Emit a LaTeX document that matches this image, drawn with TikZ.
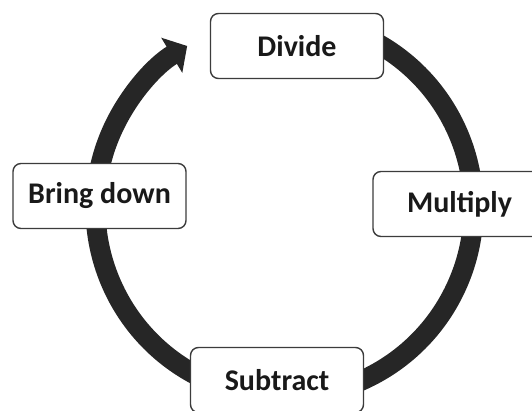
\documentclass[tikz,border=0pt]{standalone}
\usepackage{fontspec}
\setmainfont{Carlito}
\usetikzlibrary{arrows.meta}
\definecolor{ringc}{HTML}{262626}
\definecolor{boxc}{HTML}{3C3C3C}
\tikzset{
  stepnode/.style={draw=boxc, line width=1.4pt, fill=white, rounded corners=8pt,
    minimum width=173pt, minimum height=65pt, inner sep=0pt,
    font=\fontsize{30}{36}\selectfont\bfseries, text=black!90},
  ring/.style={draw=ringc, line width=20pt,
    -{Triangle[width=40pt,length=18pt]}}
}
\begin{document}
\begin{tikzpicture}[x=1pt,y=1pt]
\useasboundingbox (0,0) rectangle (532,410);
\clip (0,0) rectangle (532,410);
\fill[white] (0,0) rectangle (532,410);
\coordinate (c) at (284.5,202);
\draw[ring] (c) ++(65:189) arc[start angle=65, end angle=-239, radius=189];
\node[stepnode] (divide) at (297,364) {Divide};
\node[stepnode] (bring) at (99.5,214) {Bring down};
\node[stepnode] (multiply) at (459.5,206) {Multiply};
\node[stepnode] (subtract) at (277,30) {Subtract};
\end{tikzpicture}
\end{document}
